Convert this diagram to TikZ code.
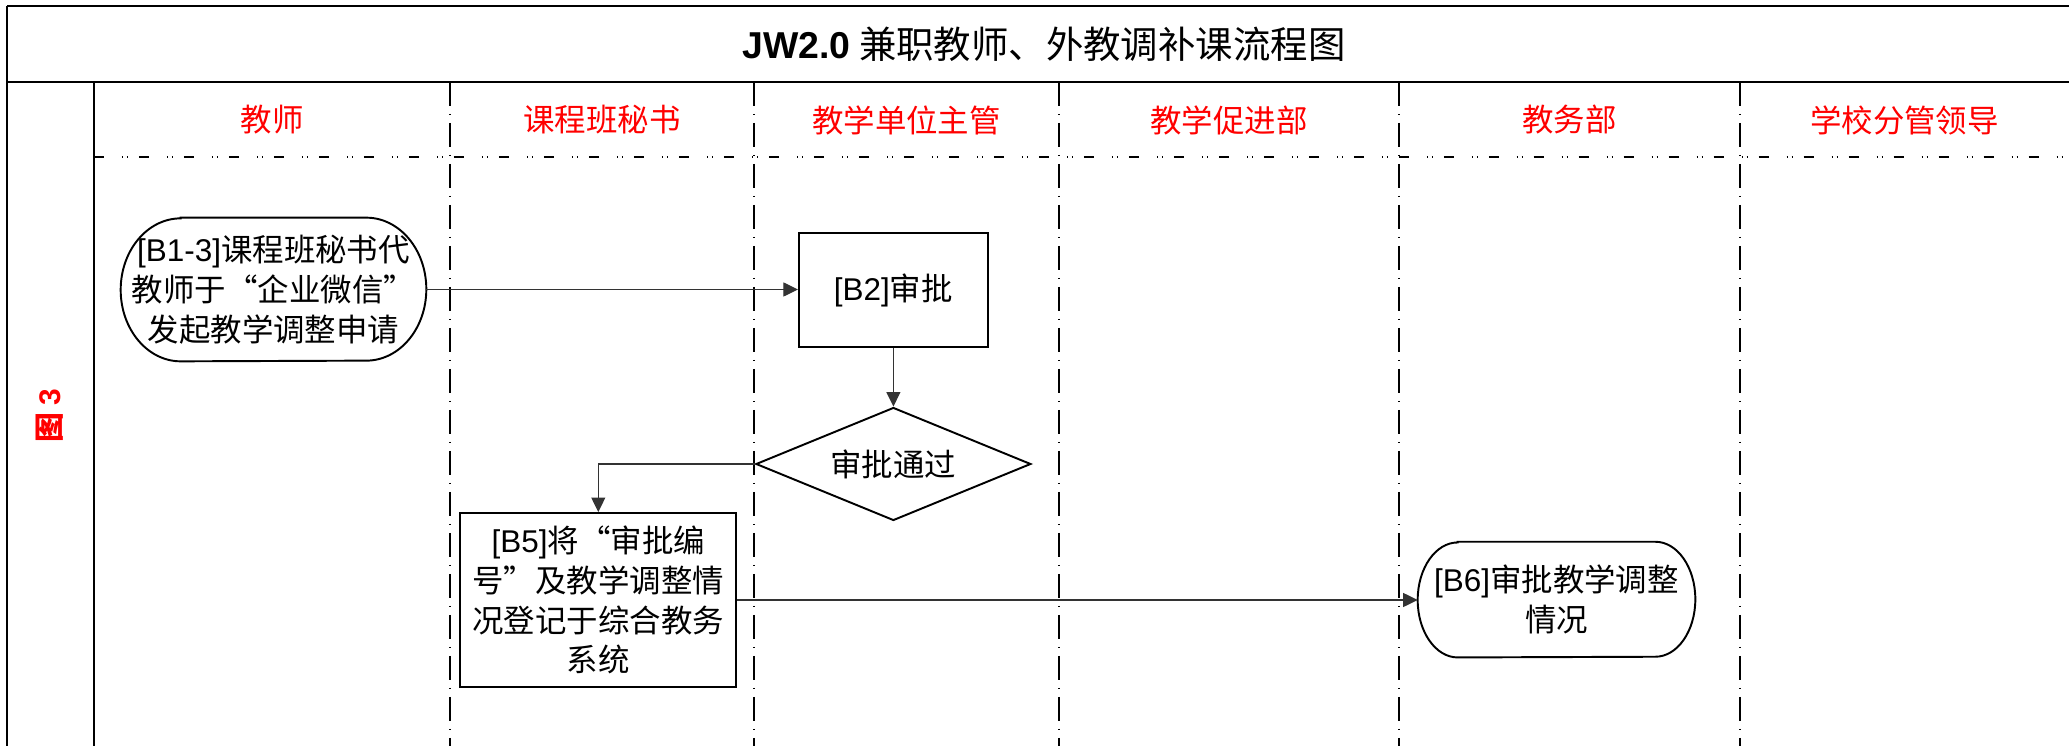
\documentclass[tikz,border=0pt]{standalone}
\usepackage{fontspec}
\setmainfont{Noto Sans CJK SC}
\newfontfamily\lat{Liberation Sans}
\usetikzlibrary{shapes.geometric,arrows.meta,calc}
\begin{document}
\begin{tikzpicture}[x=0.02cm,y=-0.02cm,
  frameline/.style={line width=1.15pt,black},
  lanev/.style={line width=0.8pt,black,dash pattern=on 0.48cm off 0.16cm on 0.02cm off 0.16cm},
  laneh/.style={line width=1.1pt,black,dash pattern=on 0.2cm off 0.36cm on 0.02cm off 0.08cm on 0.02cm off 0.22cm},
  lanelabel/.style={text=red,inner sep=0pt,font=\fontsize{17.9}{22.7}\selectfont},
  body/.style={inner sep=0pt,align=center,font=\fontsize{17.9}{22.7}\selectfont},
  proc/.style={body,draw,line width=1.1pt,fill=white},
  term/.style={body},
  decision/.style={body,draw,line width=1.1pt,fill=white,shape=diamond,aspect=2.43},
  outline/.style={line width=1.1pt,black},
  conn/.style={line width=0.6pt,black!80,-{Triangle[length=0.29cm,width=0.28cm]}}
]
\useasboundingbox (0,0) rectangle (2069,746);
\fill[white] (0,0) rectangle (2069,746);
\clip (0,0) rectangle (2069,746);

% swimlane grid
\foreach \xx in {450,754,1059,1399,1740}
  \draw[lanev] (\xx,82) -- (\xx,760);
\draw[laneh] (94,157) -- (2080,157);

% frame
\draw[frameline,line width=1.5pt] (7,6) -- (2080,6);
\draw[frameline] (7,6) -- (7,760);
\draw[frameline] (7,82) -- (2080,82);
\draw[frameline] (94,82) -- (94,760);

% title and side label
\node[inner sep=0pt,font=\fontsize{21.3}{25}\selectfont] (title) at (1044,44)
  {{\lat\bfseries JW2.0} 兼职教师、外教调补课流程图};
\node[rotate=90,text=red,inner sep=0pt,font=\bfseries\fontsize{17}{20}\selectfont] (fig) at (50,416)
  {图 {\lat\bfseries 3}};

% lane labels
\node[lanelabel] (L1) at (272,120) {教师};
\node[lanelabel] (L2) at (602,120) {课程班秘书};
\node[lanelabel] (L3) at (906.5,120) {教学单位主管};
\node[lanelabel] (L4) at (1229,120) {教学促进部};
\node[lanelabel] (L5) at (1569.5,120) {教务部};
\node[lanelabel] (L6) at (1904.5,120) {学校分管领导};

% nodes
\node[term,minimum width=6.1cm,minimum height=2.86cm] (B13) at (273.5,289.5) {};
\draw[outline,fill=white] ($(B13.north west)+(1.2cm,0)$) -- ($(B13.north east)+(-1.2cm,0)$)
  arc[start angle=90,end angle=-90,x radius=1.2cm,y radius=1.43cm]
  -- ($(B13.south west)+(1.2cm,0)$)
  arc[start angle=270,end angle=90,x radius=1.2cm,y radius=1.43cm] -- cycle;
\node[body] (B13t) at (B13.center) {{\lat [B1-3]}课程班秘书代\\教师于“企业微信”\\发起教学调整申请};

\node[proc,minimum width=3.78cm,minimum height=2.28cm] (B2) at (893.4,290) {{\lat [B2]}审批};
\node[decision,minimum width=5.5cm,minimum height=2.26cm] (D) at (893.4,464) {审批通过};
\node[proc,minimum width=5.52cm,minimum height=3.48cm] (B5) at (598.3,600)
  {{\lat [B5]}将“审批编\\号”及教学调整情\\况登记于综合教务\\系统};

\node[term,minimum width=5.54cm,minimum height=2.3cm] (B6) at (1556.5,599.6) {};
\draw[outline,fill=white] ($(B6.north west)+(0.8cm,0)$) -- ($(B6.north east)+(-0.8cm,0)$)
  arc[start angle=90,end angle=-90,x radius=0.8cm,y radius=1.15cm]
  -- ($(B6.south west)+(0.8cm,0)$)
  arc[start angle=270,end angle=90,x radius=0.8cm,y radius=1.15cm] -- cycle;
\node[body] (B6t) at (B6.center) {{\lat [B6]}审批教学调整\\情况};

% connectors
\draw[conn] (B13.east) -- (B13.east -| B2.west);
\draw[conn] (B2.south) -- (D.north);
\draw[conn] (D.west) -| (B5.north);
\draw[conn] (B5.east) -- (B5.east -| B6.west);
\end{tikzpicture}
\end{document}
